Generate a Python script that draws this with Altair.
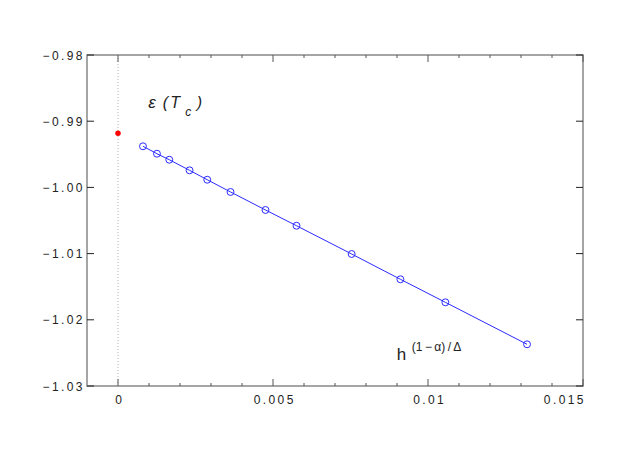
import altair as alt
import pandas as pd

# ---- data ----
x_vals = [0.000806, 0.001257, 0.001654, 0.002308, 0.002879, 0.003630,
          0.004758, 0.005758, 0.007537, 0.009110, 0.010561, 0.013195]
y_vals = [-0.99379, -0.99491, -0.99582, -0.99742, -0.99884, -1.00069,
          -1.00341, -1.00579, -1.01006, -1.01388, -1.01736, -1.02370]
tc_x = [0.0]
tc_y = [-0.99182]

x_major = [0.0, 0.005, 0.01, 0.015]
x_minor = [0.001, 0.002, 0.003, 0.004, 0.006, 0.007, 0.008, 0.009,
           0.011, 0.012, 0.013, 0.014]
y_major = [-1.03, -1.02, -1.01, -1.00, -0.99, -0.98]

eps_parts = ["ε", "(", "T", "c", ")"]
eps_x = [0.000977, 0.001440, 0.001686, 0.002170, 0.002540]
eps_y = [-0.98808, -0.98808, -0.98808, -0.98921, -0.98808]
eps_size = [17, 16, 16, 12, 16]

h_parts = ["h", "(1\u2009\u2212\u2009α)\u2009/\u2009Δ"]
h_x = [0.008994, 0.009478]
h_y = [-1.02607, -1.02471]
h_size = [17, 12]

# ---- chart ----
W, H = 496, 331
FONT = "Liberation Sans"
BLUE = "#2b2bff"
TICK = "#555555"

xs = alt.Scale(domain=[-0.001, 0.015], nice=False, zero=False)
ys = alt.Scale(domain=[-1.03, -0.98], nice=False, zero=False)

spaced = "join(split(replace(datum.label, '-', '\u2212'), ''), '\u2009')"

df = pd.DataFrame({"x": x_vals, "y": y_vals})
df_tc = pd.DataFrame({"x": tc_x, "y": tc_y})

line = alt.Chart(df).mark_line(color=BLUE, strokeWidth=1).encode(
    x=alt.X("x:Q", scale=xs,
            axis=alt.Axis(values=x_major, format=".3~f", labelExpr=spaced,
                          ticks=False, domain=False, grid=False,
                          labelPadding=8, labelFont=FONT, labelFontSize=12,
                          labelColor="#222222", title=None)),
    y=alt.Y("y:Q", scale=ys,
            axis=alt.Axis(values=y_major, format=".2f", labelExpr=spaced,
                          ticks=False, domain=False, grid=False,
                          labelPadding=5, labelFont=FONT, labelFontSize=12,
                          labelColor="#222222", title=None)),
)
pts = alt.Chart(df).mark_point(shape="circle", filled=False, color=BLUE,
                               size=48, strokeWidth=1, opacity=1).encode(
    x=alt.X("x:Q", scale=xs),
    y=alt.Y("y:Q", scale=ys),
)
tc = alt.Chart(df_tc).mark_circle(color="#ff0000", size=30, opacity=1).encode(
    x=alt.X("x:Q", scale=xs),
    y=alt.Y("y:Q", scale=ys),
)
zero_line = alt.Chart(pd.DataFrame({"x": [0.0]})).mark_rule(
    color="#b0b0b0", strokeDash=[1, 2], strokeWidth=1).encode(
    x=alt.X("x:Q", scale=xs))

def xticks(vals, y0, y1):
    return alt.Chart(pd.DataFrame({"x": vals})).mark_rule(
        color=TICK, strokeWidth=1).encode(
        x=alt.X("x:Q", scale=xs),
        y=alt.value(y0), y2=alt.value(y1))

def yticks(vals, x0, x1):
    return alt.Chart(pd.DataFrame({"y": vals})).mark_rule(
        color="#222222", strokeWidth=1).encode(
        y=alt.Y("y:Q", scale=ys),
        x=alt.value(x0), x2=alt.value(x1))

ticks = [
    xticks(x_major, H, H - 7), xticks(x_minor, H, H - 3),
    xticks(x_major, 0, 7), xticks(x_minor, 0, 3),
    yticks(y_major, 0, 7), yticks(y_major, W, W - 7),
]

def annot(parts, xv, yv, sv, style="normal"):
    d = pd.DataFrame({"t": parts, "x": xv, "y": yv, "s": sv})
    return alt.Chart(d).mark_text(align="left", baseline="alphabetic",
                                  font=FONT, color="#222222",
                                  fontStyle=style).encode(
        x=alt.X("x:Q", scale=xs),
        y=alt.Y("y:Q", scale=ys),
        text="t:N",
        size=alt.Size("s:Q", scale=None, legend=None))

chart = alt.layer(
    line, zero_line, *ticks, pts, tc,
    annot(eps_parts, eps_x, eps_y, eps_size, "italic"),
    annot(h_parts, h_x, h_y, h_size),
).properties(
    width=W, height=H,
    autosize=alt.AutoSizeParams(type="none"),
    padding={"left": 79, "top": 47, "right": 52, "bottom": 60},
    background="white",
).configure_view(stroke="#888888", strokeWidth=1.5)

chart.save("out.html", embed_options={"renderer": "svg", "actions": False})
